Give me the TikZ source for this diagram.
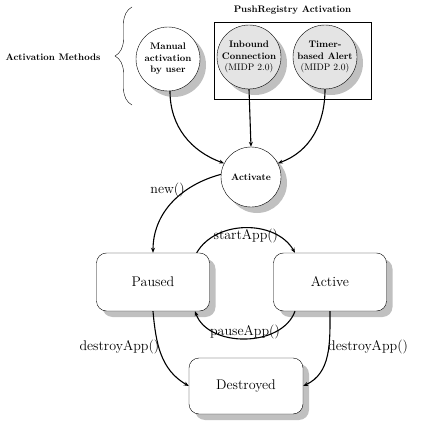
\documentclass[tikz,border=0pt]{standalone}
\usepackage{amsmath}
\usetikzlibrary{calc}
\usetikzlibrary{shadows}
\usetikzlibrary{arrows.meta}
\usetikzlibrary{decorations.pathreplacing}
\usetikzlibrary{positioning}
\definecolor{shadowgray}{HTML}{C0C0C0}
\definecolor{pushgray}{HTML}{E4E4E4}

\begin{document}
\begin{tikzpicture}[x=1pt,y=1pt,
    methodcirc/.style={circle,draw,thin,fill=white,minimum size=64pt,inner sep=0pt,
        align=center,font=\fontsize{9.5}{11.5}\selectfont\bfseries,
        drop shadow={shadow xshift=6pt,shadow yshift=-6pt,fill=shadowgray,opacity=1}},
    statebox/.style={rectangle,draw,thin,fill=white,rounded corners=10pt,
        minimum width=113pt,minimum height=58pt,font=\fontsize{14}{16}\selectfont,
        drop shadow={shadow xshift=6pt,shadow yshift=-6pt,fill=shadowgray,opacity=1}},
    flow/.style={line width=1.1pt,-{Stealth[length=5pt,width=4pt]}},
    lbl/.style={font=\fontsize{14}{16}\selectfont,inner sep=1pt}]
    \useasboundingbox (0,0) rectangle (432,-423);
    % activation methods
    \node[font=\fontsize{9.5}{11.5}\selectfont\bfseries] (methods) at (53,-57) {Activation Methods};
    \draw[decorate,decoration={brace,amplitude=17pt}] (132,-105) -- (132,-7);
    \node[draw,thin,minimum width=157pt,minimum height=77pt] (pushbox) at (292.5,-60.5) {};
    \node[font=\fontsize{9.5}{11.5}\selectfont\bfseries,above=4pt of pushbox] (pushtitle) {PushRegistry Activation};
    \node[methodcirc] (manual) at (168,-59) {Manual\\activation\\by user};
    \node[methodcirc,fill=pushgray] (inbound) at (249,-57) {Inbound\\Connection\\{\mdseries (MIDP 2.0)}};
    \node[methodcirc,fill=pushgray] (timer) at (325,-57) {Timer-\\based Alert\\{\mdseries (MIDP 2.0)}};
    \node[methodcirc,minimum size=60pt] (activate) at (251,-177) {Activate};
    % states
    \node[statebox] (paused) at (153,-282) {Paused};
    \node[statebox] (active) at (330,-282) {Active};
    \node[statebox,minimum width=114pt,minimum height=56pt] (destroyed) at (246,-386) {Destroyed};
    % transitions
    \draw[flow] ([xshift=2pt]manual.south) to[out=-90,in=160] (activate.153);
    \draw[flow] (inbound.south) -- (activate.north);
    \draw[flow] (timer.south) to[out=-90,in=20] (activate.27);
    \draw[flow] (activate.175) to[out=195,in=90] node[lbl,pos=0.33,left=0pt] (newlbl) {new()} (paused.north);
    \draw[flow] ([xshift=-13pt]paused.north east) to[out=60,in=120]
        node[lbl,midway,below=0pt] (startlbl) {startApp()} ([xshift=-35pt]active.north);
    \draw[flow] ([xshift=-35pt]active.south) to[out=-110,in=-70]
        node[lbl,midway,above=-2pt] (pauselbl) {pauseApp()} ([xshift=42pt]paused.south);
    \draw[flow] (paused.south) to[out=-85,in=150]
        node[lbl,pos=0.4,left=-2pt] (destroylbl) {destroyApp()} (destroyed.west);
    \draw[flow] (active.south) to[out=-90,in=25]
        node[lbl,pos=0.4,right=-2pt] (destroyrlbl) {destroyApp()} (destroyed.east);
\end{tikzpicture}
\end{document}
